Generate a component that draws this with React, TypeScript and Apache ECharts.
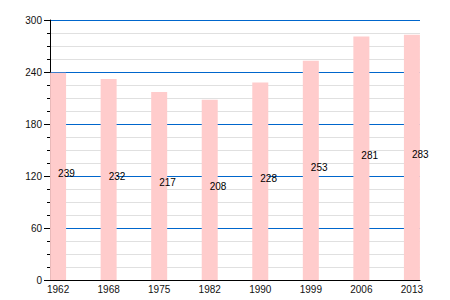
import React, { useEffect, useRef } from "react";
import * as echarts from "echarts";

const years = ["1962", "1968", "1975", "1982", "1990", "1999", "2006", "2013"];
const values = [239, 232, 217, 208, 228, 253, 281, 283];
const yMin = 0;
const yMax = 300;
const yStep = 60;

export default function App() {
  const ref = useRef<HTMLDivElement>(null);
  useEffect(() => {
    if (!ref.current) return;
    const chart = echarts.init(ref.current, null, { renderer: "svg" });
    const idx = years.map((_, i) => i);
    chart.setOption({
      animation: false,
      grid: { left: 50, right: 30, top: 20, bottom: 20, containLabel: false },
      xAxis: {
        type: "value",
        min: -0.16,
        max: years.length - 1 + 0.16,
        splitLine: { show: false },
        axisLine: { show: true, onZero: false, lineStyle: { color: "#000", width: 1 } },
        axisTick: { show: false },
        axisLabel: {
          customValues: idx,
          formatter: (v: number) => years[Math.round(v)] ?? "",
          fontSize: 10,
          color: "#111",
          fontFamily: "Liberation Sans, Arial, sans-serif",
          margin: 4,
        },
      },
      yAxis: {
        type: "value",
        min: yMin,
        max: yMax,
        interval: yStep,
        axisLine: { show: true, onZero: false, lineStyle: { color: "#000", width: 1 } },
        axisTick: { show: true, length: 6, lineStyle: { color: "#000", width: 1 } },
        minorTick: { show: true, splitNumber: 4, length: 3, lineStyle: { color: "#000", width: 1 } },
        splitLine: { show: true, lineStyle: { color: "#0066cc", width: 1 } },
        minorSplitLine: { show: true, lineStyle: { color: "#e0e0e0", width: 1 } },
        axisLabel: {
          fontSize: 10,
          color: "#111",
          fontFamily: "Liberation Sans, Arial, sans-serif",
          margin: 8,
        },
      },
      series: [
        {
          type: "bar",
          data: values.map((v, i) => [i, v]),
          barWidth: 16,
          itemStyle: { color: "#ffcccc" },
          label: {
            show: true,
            position: ["50%", "50%"],
            align: "left",
            verticalAlign: "middle",
            offset: [0, -3],
            fontSize: 10,
            color: "#000",
            fontFamily: "Liberation Sans, Arial, sans-serif",
            formatter: (p: any) => String(p.value[1]),
          },
        },
      ],
    });
    return () => chart.dispose();
  }, []);
  return <div ref={ref} style={{ width: 450, height: 300, position: "absolute", left: 0, top: 0 }} />;
}
